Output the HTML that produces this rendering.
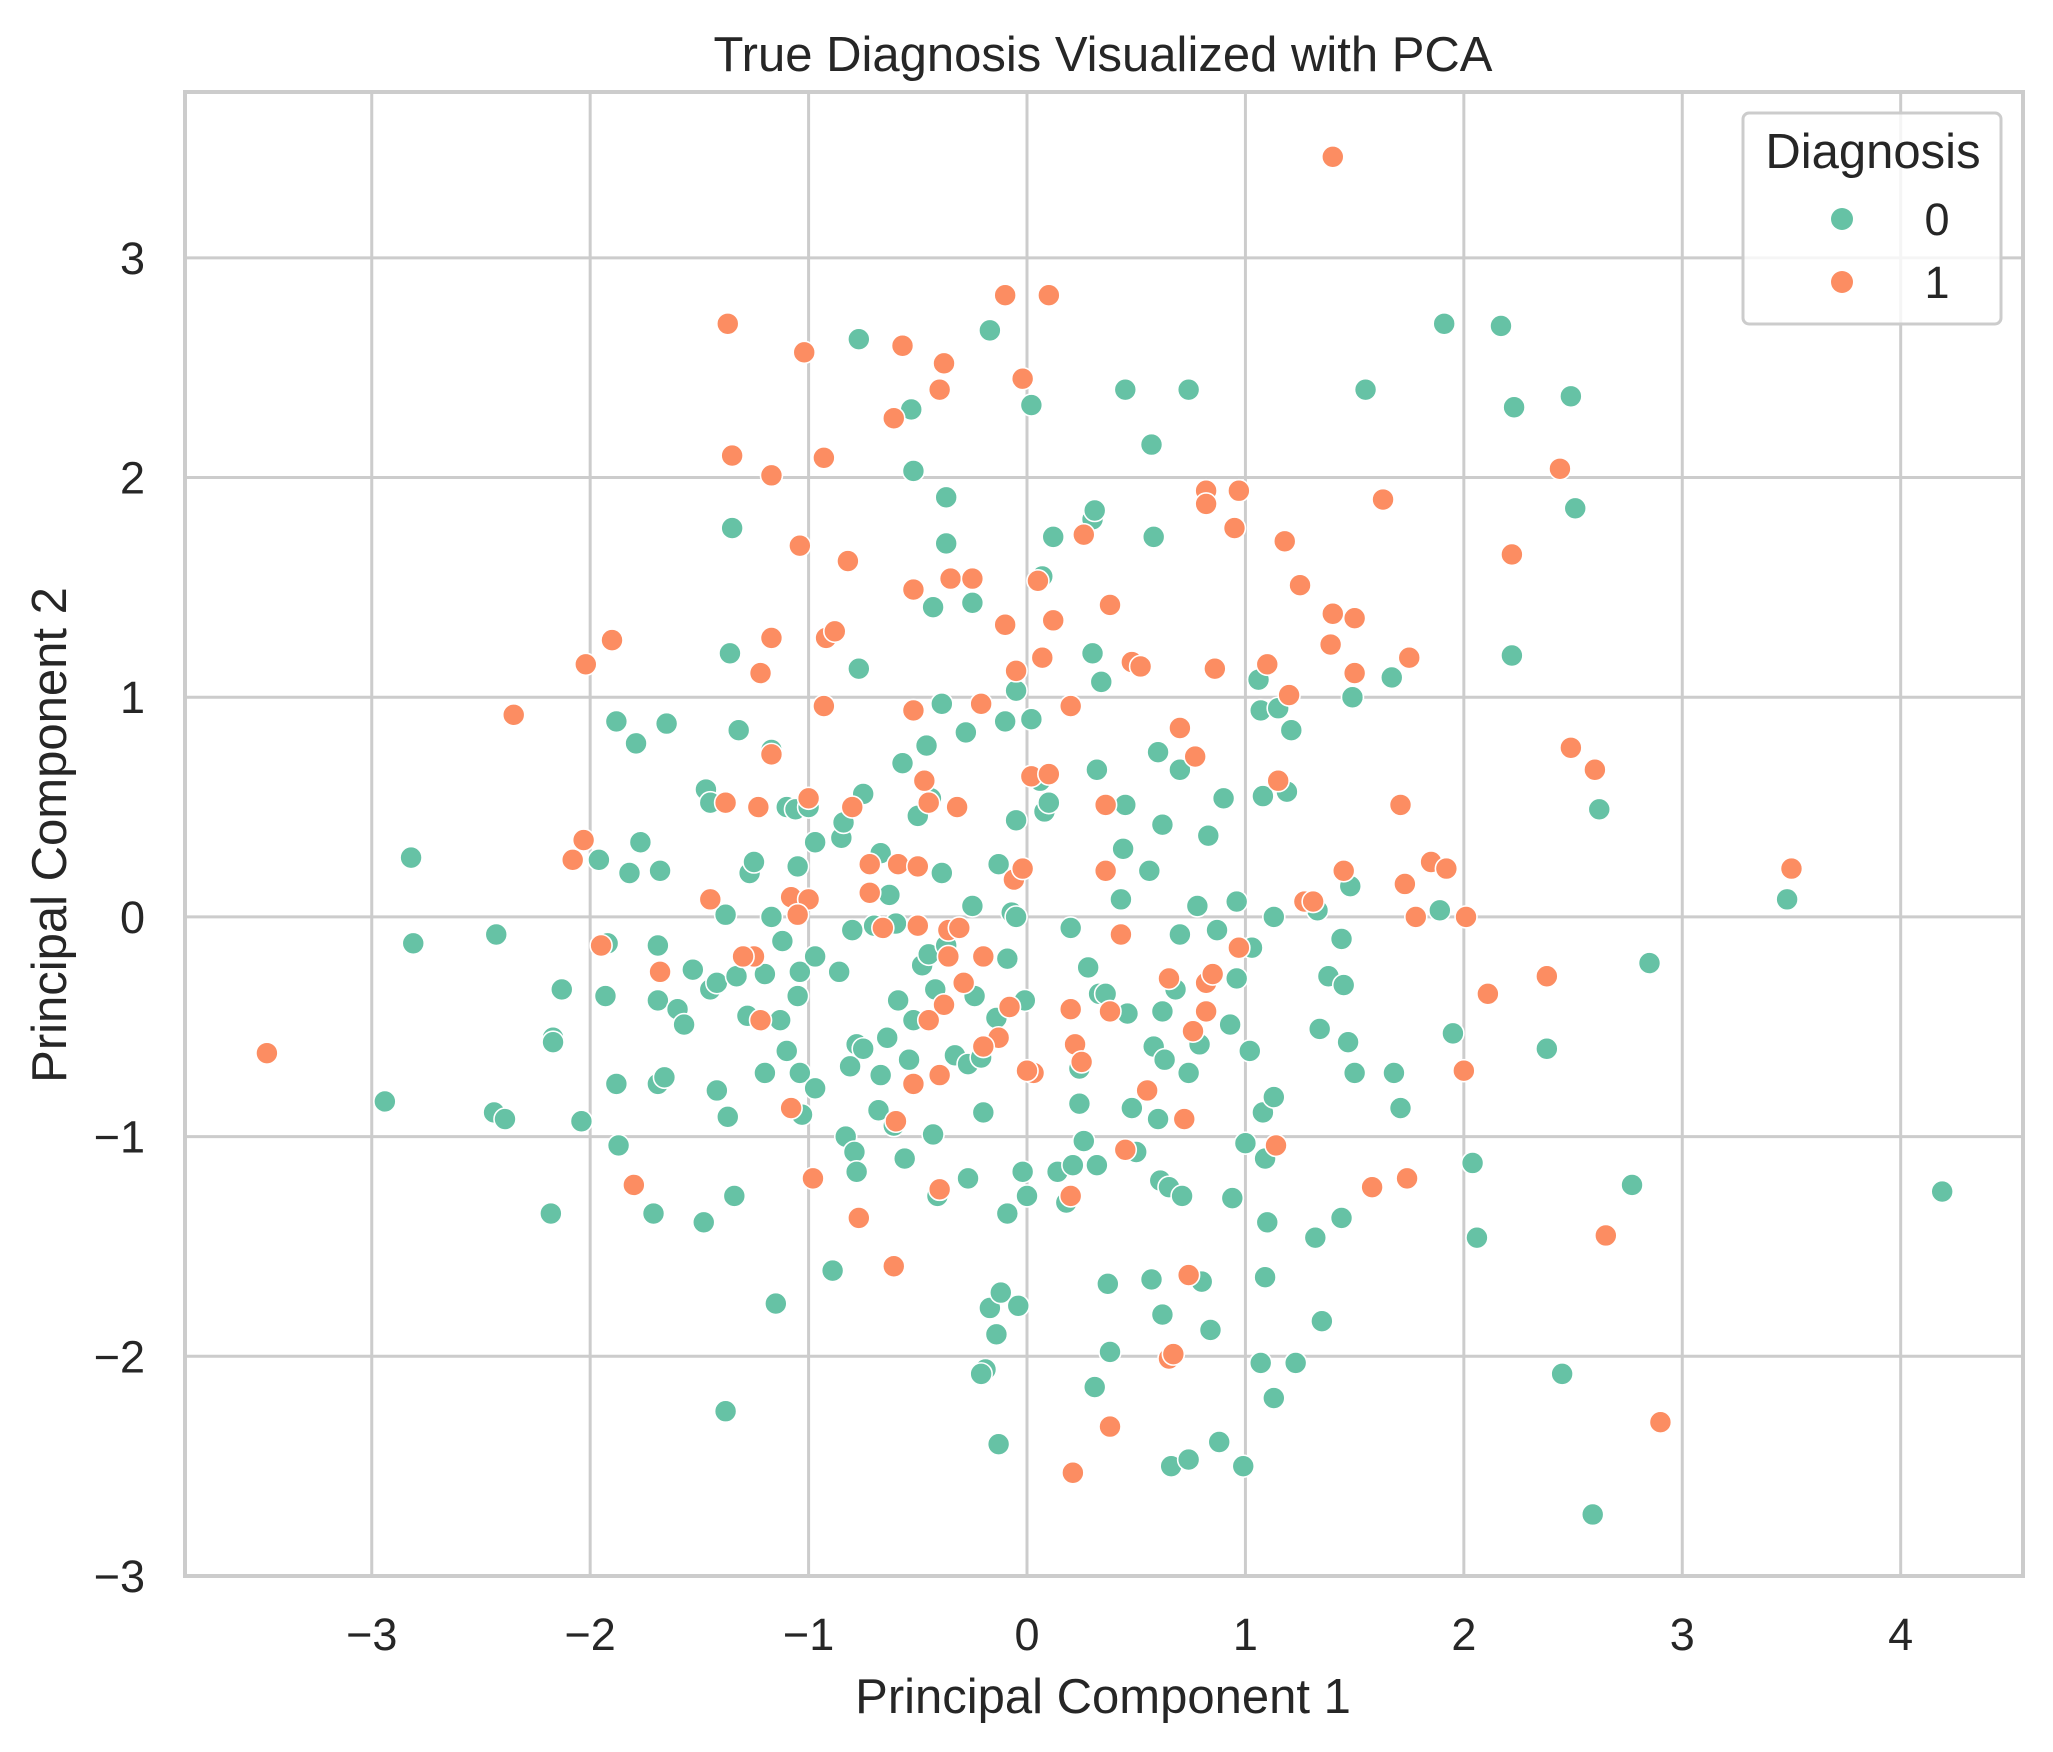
<!DOCTYPE html>
<html><head><meta charset="utf-8"><style>
html,body{margin:0;padding:0;background:#fff;}
svg{display:block;font-family:"Liberation Sans",Arial,sans-serif;}
</style></head>
<body>
<svg id="chart" width="2053" height="1752" viewBox="0 0 2053 1752">
<rect x="0" y="0" width="2053" height="1752" fill="#fff"/>
<g id="grid"></g>
<g id="ticks"></g>
<g id="points"></g>
<rect x="185" y="92" width="1838" height="1484" fill="none" stroke="#cccccc" stroke-width="4"/>
<text x="1103" y="71" font-size="49" text-anchor="middle" fill="#262626">True Diagnosis Visualized with PCA</text>
<text x="1103" y="1713" font-size="49" text-anchor="middle" fill="#262626">Principal Component 1</text>
<text x="0" y="0" font-size="49" text-anchor="middle" fill="#262626" transform="translate(66,835) rotate(-90)">Principal Component 2</text>
<g>
<rect x="1743" y="113" width="258" height="211" rx="6" fill="#fff" fill-opacity="0.8" stroke="#cccccc" stroke-width="3"/>
<text x="1873" y="168" font-size="49" text-anchor="middle" fill="#262626">Diagnosis</text>
<g><circle cx="1842" cy="219" r="11" fill="#66c2a5"/><text x="1937" y="235" font-size="45" text-anchor="middle" fill="#262626">0</text></g>
<g><circle cx="1842" cy="282" r="11" fill="#fc8d62"/><text x="1937" y="298" font-size="45" text-anchor="middle" fill="#262626">1</text></g>
</g>
</svg>
<script>
const xTicks = [-3,-2,-1,0,1,2,3,4];
const yTicks = [-3,-2,-1,0,1,2,3];
const class0X = [-2.82,-2.81,-2.94,-2.43,-2.44,-2.39,-2.17,-2.17,-2.13,-2.18,-2.04,-1.96,-1.93,-1.92,-1.88,-1.82,-1.79,-1.77,-1.68,-1.65,-1.69,-1.69,-1.6,-1.57,-1.88,-1.87,-1.69,-1.66,-1.71,-1.53,-1.48,-1.47,-1.45,-1.45,-1.42,-1.42,-1.38,-1.37,-1.38,-1.35,-1.36,-1.32,-1.33,-1.34,-1.28,-1.27,-1.25,-1.2,-1.2,-1.17,-1.17,-1.15,-1.13,-1.12,-1.1,-1.1,-1.06,-1.05,-1.05,-1.04,-1.04,-1.03,-0.97,-0.97,-1.0,-0.97,-0.89,-0.85,-0.84,-0.86,-0.83,-0.81,-0.8,-0.79,-0.78,-0.78,-0.77,-0.77,-0.75,-0.75,-0.7,-0.67,-0.68,-0.67,-0.63,-0.64,-0.61,-0.59,-0.57,-0.6,-0.56,-0.53,-0.52,-0.54,-0.52,-0.5,-0.48,-0.45,-0.46,-0.44,-0.43,-0.43,-0.42,-0.41,-0.39,-0.39,-0.37,-0.37,-0.37,-0.33,-0.28,-0.27,-0.27,-0.25,-0.25,-0.24,-0.21,-0.2,-0.19,-0.21,-0.17,-0.17,-0.14,-0.14,-0.13,-0.12,-0.13,-0.1,-0.09,-0.09,-0.07,-0.05,-0.05,-0.05,-0.04,-0.02,-0.01,0.0,0.02,0.02,0.06,0.07,0.08,0.1,0.12,0.14,0.18,0.2,0.21,0.24,0.24,0.26,0.28,0.3,0.31,0.3,0.32,0.33,0.34,0.32,0.31,0.36,0.37,0.38,0.43,0.44,0.45,0.45,0.46,0.48,0.5,0.56,0.57,0.57,0.58,0.58,0.6,0.6,0.61,0.62,0.62,0.62,0.63,0.65,0.66,0.68,0.7,0.7,0.71,0.74,0.74,0.74,0.78,0.79,0.8,0.83,0.84,0.87,0.88,0.9,0.93,0.94,0.96,0.96,0.99,1.0,1.02,1.03,1.06,1.07,1.07,1.08,1.08,1.09,1.09,1.1,1.13,1.13,1.13,1.15,1.19,1.21,1.23,1.32,1.33,1.34,1.35,1.38,1.44,1.44,1.45,1.47,1.48,1.49,1.5,1.55,1.67,1.68,1.71,1.89,1.91,1.95,2.04,2.06,2.17,2.22,2.23,2.38,2.45,2.49,2.51,2.59,2.62,2.77,2.85,3.48,4.19];
const class0Y = [0.27,-0.12,-0.84,-0.08,-0.89,-0.92,-0.55,-0.57,-0.33,-1.35,-0.93,0.26,-0.36,-0.12,0.89,0.2,0.79,0.34,0.21,0.88,-0.13,-0.38,-0.42,-0.49,-0.76,-1.04,-0.76,-0.73,-1.35,-0.24,-1.39,0.58,0.52,-0.33,-0.79,-0.3,0.01,-0.91,-2.25,1.77,1.2,0.85,-0.27,-1.27,-0.45,0.2,0.25,-0.26,-0.71,0.0,0.76,-1.76,-0.47,-0.11,0.5,-0.61,0.49,0.23,-0.36,-0.71,-0.25,-0.9,-0.78,0.34,0.5,-0.18,-1.61,0.36,0.43,-0.25,-1.0,-0.68,-0.06,-1.07,-0.58,-1.16,1.13,2.63,0.56,-0.6,-0.04,0.29,-0.88,-0.72,0.1,-0.55,-0.95,-0.38,0.7,-0.03,-1.1,2.31,2.03,-0.65,-0.47,0.46,-0.22,-0.17,0.78,0.54,1.41,-0.99,-0.33,-1.27,0.2,0.97,1.7,1.91,-0.13,-0.63,0.84,-0.67,-1.19,1.43,0.05,-0.36,-0.64,-0.89,-2.06,-2.08,2.67,-1.78,-0.46,-1.9,-2.4,-1.71,0.24,0.89,-0.19,-1.35,0.02,0.0,1.03,0.44,-1.77,-1.16,-0.38,-1.27,0.9,2.33,0.62,1.55,0.48,0.52,1.73,-1.16,-1.3,-0.05,-1.13,-0.69,-0.85,-1.02,-0.23,1.81,1.85,1.2,0.67,-0.35,1.07,-1.13,-2.14,-0.35,-1.67,-1.98,0.08,0.31,0.51,2.4,-0.44,-0.87,-1.07,0.21,-1.65,2.15,1.73,-0.59,0.75,-0.92,-1.2,-1.81,0.42,-0.43,-0.65,-1.23,-2.5,-0.33,0.67,-0.08,-1.27,-0.71,2.4,-2.47,0.05,-0.58,-1.66,0.37,-1.88,-0.06,-2.39,0.54,-0.49,-1.28,0.07,-0.28,-2.5,-1.03,-0.61,-0.14,1.08,0.94,-2.03,-0.89,0.55,-1.1,-1.64,-1.39,-0.82,0.0,-2.19,0.95,0.57,0.85,-2.03,-1.46,0.03,-0.51,-1.84,-0.27,-0.1,-1.37,-0.31,-0.57,0.14,1.0,-0.71,2.4,1.09,-0.71,-0.87,0.03,2.7,-0.53,-1.12,-1.46,2.69,1.19,2.32,-0.6,-2.08,2.37,1.86,-2.72,0.49,-1.22,-0.21,0.08,-1.25];
const class1X = [-3.48,-2.35,-2.02,-1.9,-2.03,-2.08,-1.95,-1.68,-1.8,-1.37,-1.35,-1.17,-1.02,-0.93,-1.04,-0.82,-1.17,-1.22,-0.92,-0.88,-0.93,-1.17,-1.38,-1.23,-1.0,-1.45,-1.08,-1.0,-1.05,-1.25,-1.22,-1.08,-0.98,-0.77,-0.61,-0.8,-0.72,-0.72,-0.59,-0.5,-0.47,-0.52,-0.57,-0.61,-0.38,-0.4,-0.52,-0.35,-0.25,-0.21,-0.32,-0.45,-0.5,-0.36,-0.31,-0.36,-0.38,-0.45,-0.4,-0.52,-0.6,-0.4,-0.29,-0.2,-0.13,-0.2,-0.08,-0.06,-0.02,0.02,0.1,0.07,0.05,-0.05,0.12,-0.1,-0.02,-0.1,0.1,0.2,0.26,0.38,0.48,0.52,0.36,0.36,0.2,0.22,0.25,0.03,0.38,0.43,0.2,0.45,0.38,0.21,0.55,0.65,0.7,0.77,0.72,0.76,0.82,0.82,0.85,0.97,0.74,0.65,0.67,0.82,0.82,0.97,0.95,0.86,1.1,1.18,1.2,1.25,1.4,1.39,1.5,1.5,1.63,1.75,1.71,1.15,1.27,1.31,1.45,1.73,1.85,1.78,1.92,2.01,2.11,2.0,1.14,1.58,1.74,2.44,2.22,2.49,2.6,2.38,2.65,2.9,1.4,3.5,-1.3,-0.66,0.0];
const class1Y = [-0.62,0.92,1.15,1.26,0.35,0.26,-0.13,-0.25,-1.22,2.7,2.1,2.01,2.57,2.09,1.69,1.62,1.27,1.11,1.27,1.3,0.96,0.74,0.52,0.5,0.54,0.08,0.09,0.08,0.01,-0.18,-0.47,-0.87,-1.19,-1.37,-1.59,0.5,0.24,0.11,0.24,0.23,0.62,0.94,2.6,2.27,2.52,2.4,1.49,1.54,1.54,0.97,0.5,0.52,-0.04,-0.06,-0.05,-0.18,-0.4,-0.47,-0.72,-0.76,-0.93,-1.24,-0.3,-0.18,-0.55,-0.59,-0.41,0.17,0.22,0.64,0.65,1.18,1.53,1.12,1.35,1.33,2.45,2.83,2.83,0.96,1.74,1.42,1.16,1.14,0.51,0.21,-0.42,-0.58,-0.66,-0.71,-0.43,-0.08,-1.27,-1.06,-2.32,-2.53,-0.79,-0.28,0.86,0.73,-0.92,-0.52,-0.3,-0.43,-0.26,-0.14,-1.63,-2.01,-1.99,1.94,1.88,1.94,1.77,1.13,1.15,1.71,1.01,1.51,1.38,1.24,1.36,1.11,1.9,1.18,0.51,0.62,0.07,0.07,0.21,0.15,0.25,0.0,0.22,0.0,-0.35,-0.7,-1.04,-1.23,-1.19,2.04,1.65,0.77,0.67,-0.27,-1.45,-2.3,3.46,0.22,-0.18,-0.05,-0.7];

const L=185,R=2023,T=92,B=1576;
const xMin=-3.855,xMax=4.56,yMin=-3.0,yMax=3.755;
function sx(v){return L+(v-xMin)/(xMax-xMin)*(R-L);}
function sy(v){return B-(v-yMin)/(yMax-yMin)*(B-T);}
const NS="http://www.w3.org/2000/svg";
const grid=document.getElementById('grid'), ticks=document.getElementById('ticks'), pts=document.getElementById('points');
function mk(tag,attrs,parent){const e=document.createElementNS(NS,tag);for(const k in attrs)e.setAttribute(k,attrs[k]);parent.appendChild(e);return e;}
xTicks.forEach(function(t){
  const g=mk('line',{x1:sx(t),x2:sx(t),y1:T,y2:B,stroke:'#cccccc','stroke-width':3},grid);
  
  
  const tx=mk('text',{x:sx(t),y:1650,'font-size':45,'text-anchor':'middle',fill:'#262626'},ticks);
  tx.textContent=(t<0?'\u2212'+Math.abs(t):String(t));
  
  
});
yTicks.forEach(function(t){
  const g=mk('line',{x1:L,x2:R,y1:sy(t),y2:sy(t),stroke:'#cccccc','stroke-width':3},grid);
  
  
  const tx=mk('text',{x:145,y:sy(t)+16,'font-size':45,'text-anchor':'end',fill:'#262626'},ticks);
  tx.textContent=(t<0?'\u2212'+Math.abs(t):String(t));
  
  
});
function drawSeries(xs,ys,color,name){
  for(let i=0;i<xs.length;i++){
    const c=mk('circle',{cx:sx(xs[i]),cy:sy(ys[i]),r:11,fill:color,stroke:'#ffffff','stroke-width':1.6},pts);
    
    
  }
}
drawSeries(class0X,class0Y,'#66c2a5','point-diagnosis-0');
drawSeries(class1X,class1Y,'#fc8d62','point-diagnosis-1');
</script>
</body></html>
